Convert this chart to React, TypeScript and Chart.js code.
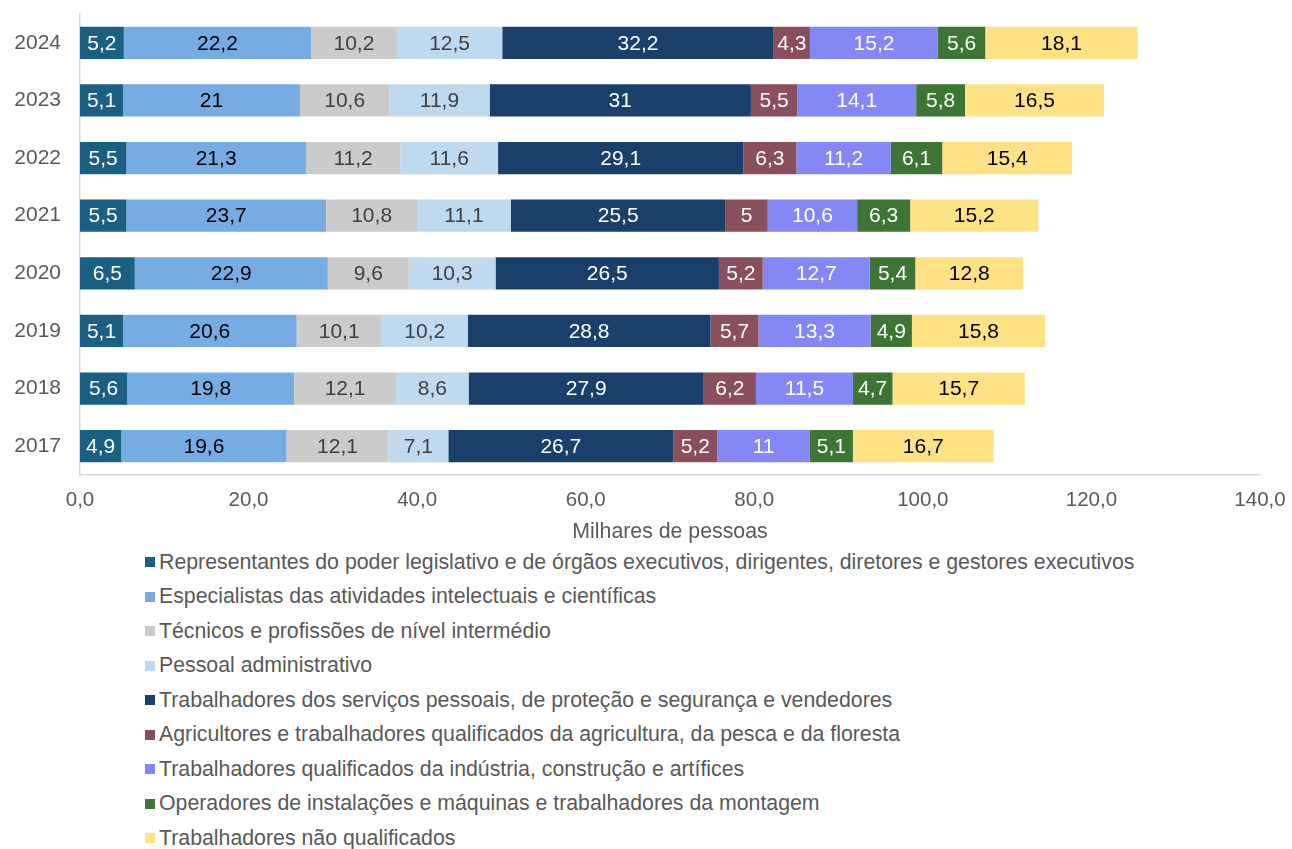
import React, { useEffect, useRef } from 'react';
import { Chart, registerables } from 'chart.js';

Chart.register(...registerables);

const years = ['2024', '2023', '2022', '2021', '2020', '2019', '2018', '2017'];

const seriesNames = [
  'Representantes do poder legislativo e de órgãos executivos, dirigentes, diretores e gestores executivos',
  'Especialistas das atividades intelectuais e científicas',
  'Técnicos e profissões de nível intermédio',
  'Pessoal administrativo',
  'Trabalhadores dos serviços pessoais, de proteção e segurança e vendedores',
  'Agricultores e trabalhadores qualificados da agricultura, da pesca e da floresta',
  'Trabalhadores qualificados da indústria, construção e artífices',
  'Operadores de instalações e máquinas e trabalhadores da montagem',
  'Trabalhadores não qualificados',
];

const representantes = [5.2, 5.1, 5.5, 5.5, 6.5, 5.1, 5.6, 4.9];
const especialistas = [22.2, 21, 21.3, 23.7, 22.9, 20.6, 19.8, 19.6];
const tecnicos = [10.2, 10.6, 11.2, 10.8, 9.6, 10.1, 12.1, 12.1];
const administrativo = [12.5, 11.9, 11.6, 11.1, 10.3, 10.2, 8.6, 7.1];
const servicos = [32.2, 31, 29.1, 25.5, 26.5, 28.8, 27.9, 26.7];
const agricultores = [4.3, 5.5, 6.3, 5, 5.2, 5.7, 6.2, 5.2];
const industria = [15.2, 14.1, 11.2, 10.6, 12.7, 13.3, 11.5, 11];
const operadores = [5.6, 5.8, 6.1, 6.3, 5.4, 4.9, 4.7, 5.1];
const naoQualificados = [18.1, 16.5, 15.4, 15.2, 12.8, 15.8, 15.7, 16.7];

const seriesValues = [
  representantes,
  especialistas,
  tecnicos,
  administrativo,
  servicos,
  agricultores,
  industria,
  operadores,
  naoQualificados,
];

const seriesColors = [
  '#1B5F82',
  '#77ACE3',
  '#CBCBCB',
  '#BFD9EE',
  '#1A3F6A',
  '#8A4F5C',
  '#8488F4',
  '#3E7536',
  '#FFE286',
];

const labelColors = [
  '#FFFFFF',
  '#000000',
  '#404040',
  '#404040',
  '#FFFFFF',
  '#FFFFFF',
  '#FFFFFF',
  '#FFFFFF',
  '#000000',
];

const xMax = 140;
const xStep = 20;
const xTitle = 'Milhares de pessoas';

const FONT = "'Liberation Sans', Arial, sans-serif";
const TEXT_GRAY = '#595959';

const fmt = (v: number) => String(v).replace('.', ',');

const dataLabelPlugin = {
  id: 'segmentLabels',
  afterDatasetsDraw(chart: any) {
    const ctx = chart.ctx;
    ctx.save();
    ctx.font = `21px ${FONT}`;
    ctx.textAlign = 'center';
    ctx.textBaseline = 'middle';
    chart.data.datasets.forEach((ds: any, di: number) => {
      const meta = chart.getDatasetMeta(di);
      meta.data.forEach((bar: any, i: number) => {
        const v = ds.data[i];
        const cx = (bar.x + bar.base) / 2;
        ctx.fillStyle = labelColors[di];
        ctx.fillText(fmt(v), cx, bar.y + 1);
      });
    });
    ctx.restore();
  },
};

const CANVAS_W = 1292;
const CANVAS_H = 545;
const PLOT_LEFT = 80;
const PLOT_TOP = 14;
const PLOT_BOTTOM = 475;
const PLOT_RIGHT = 1260;

export default function App() {
  const ref = useRef<HTMLCanvasElement | null>(null);

  useEffect(() => {
    if (!ref.current) return;
    const chart = new Chart(ref.current, {
      type: 'bar',
      data: {
        labels: years,
        datasets: seriesValues.map((vals, i) => ({
          label: seriesNames[i],
          data: vals,
          backgroundColor: seriesColors[i],
          borderWidth: 0,
          categoryPercentage: 1,
          barPercentage: 0.56,
        })),
      },
      options: {
        indexAxis: 'y',
        responsive: false,
        animation: false,
        devicePixelRatio: 1,
        layout: {
          padding: { left: 0, right: CANVAS_W - PLOT_RIGHT, top: PLOT_TOP, bottom: 0 },
        },
        plugins: {
          legend: { display: false },
          tooltip: { enabled: false },
        },
        scales: {
          x: {
            stacked: true,
            min: 0,
            max: xMax,
            grid: { display: false, drawTicks: false },
            border: { display: true, color: '#D9D9D9', width: 1.5 },
            ticks: {
              stepSize: xStep,
              padding: 13,
              color: TEXT_GRAY,
              font: { family: FONT, size: 20.5 },
              callback: (v: any) => Number(v).toFixed(1).replace('.', ','),
            },
            title: {
              display: true,
              text: xTitle,
              color: TEXT_GRAY,
              font: { family: FONT, size: 21.3 },
              padding: 0,
            },
            afterFit: (s: any) => {
              s.height = CANVAS_H - PLOT_BOTTOM;
              s.paddingLeft = 0;
              s.paddingRight = 0;
            },
          },
          y: {
            stacked: true,
            grid: { display: false, drawTicks: false },
            border: { display: true, color: '#D9D9D9', width: 1.5 },
            ticks: {
              padding: 19,
              color: TEXT_GRAY,
              font: { family: FONT, size: 21 },
            },
            afterFit: (s: any) => {
              s.width = PLOT_LEFT;
              s.paddingTop = 0;
              s.paddingBottom = 0;
            },
          },
        },
      },
      plugins: [dataLabelPlugin],
    } as any);
    return () => chart.destroy();
  }, []);

  return (
    <div
      style={{
        position: 'absolute',
        left: 0,
        top: 0,
        width: CANVAS_W,
        height: 849,
        background: '#FFFFFF',
        overflow: 'hidden',
        fontFamily: FONT,
      }}
    >
      <canvas ref={ref} width={CANVAS_W} height={CANVAS_H} style={{ display: 'block' }} />
      {seriesNames.map((name, i) => (
        <div
          key={name}
          style={{
            position: 'absolute',
            left: 145,
            top: 562 + i * 34.5 - 14,
            height: 28,
            display: 'flex',
            alignItems: 'center',
            whiteSpace: 'nowrap',
            fontSize: 21.3,
            color: TEXT_GRAY,
          }}
        >
          <span
            style={{
              display: 'inline-block',
              width: 10,
              height: 10,
              background: seriesColors[i],
              marginRight: 4,
            }}
          />
          <span>{name}</span>
        </div>
      ))}
    </div>
  );
}
